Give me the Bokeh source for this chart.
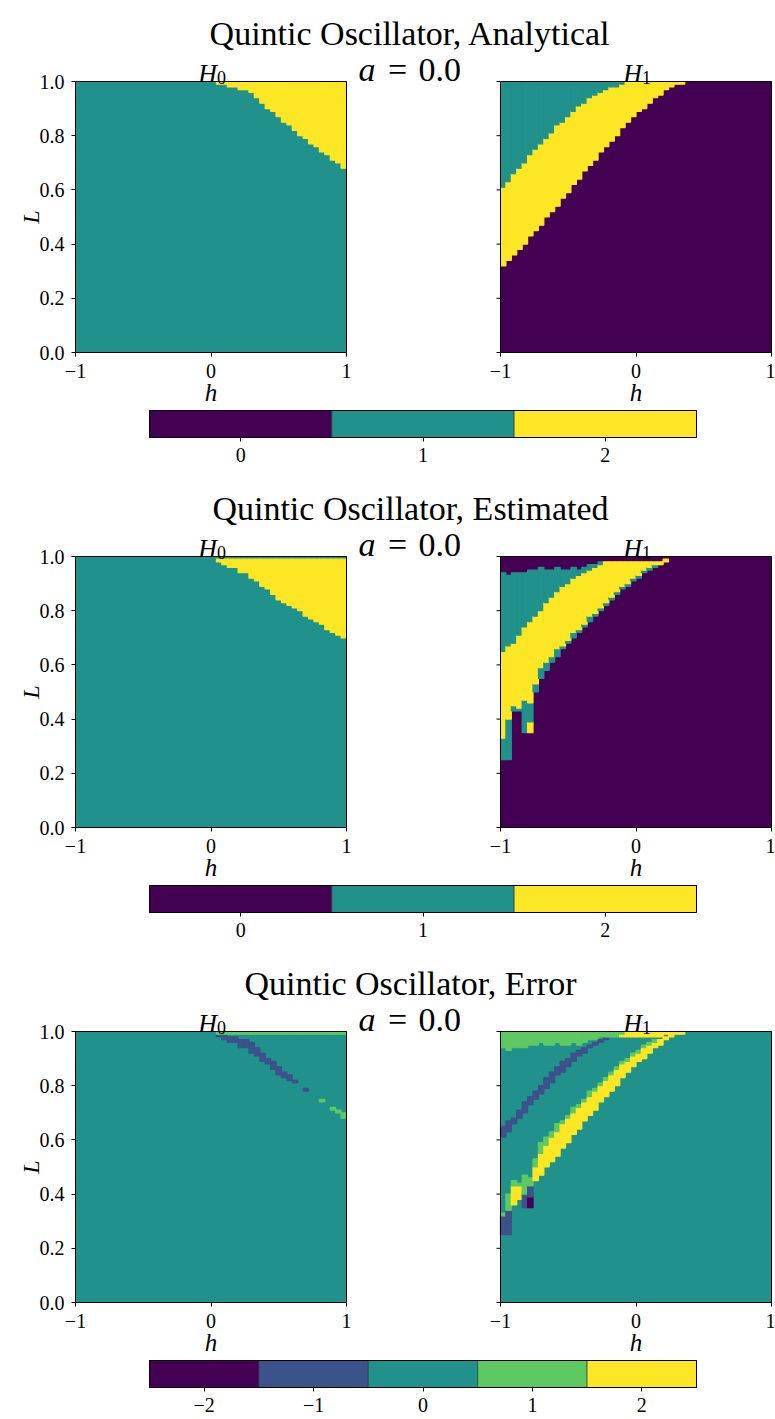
import numpy as np
from bokeh.plotting import figure
from bokeh.layouts import column
from bokeh.models import (Range1d, FixedTicker, PrintfTickFormatter, LinearAxis,
                          Label, LinearColorMapper, ColumnDataSource)
from bokeh.transform import transform
from bokeh.embed import file_html
from bokeh.resources import INLINE

# ---------------------------------------------------------------- data grid
# 50 columns over h in [-1, 1], 100 rows over L in [0, 1]
H_MIN, H_MAX, N_H = -1.0, 1.0, 50
L_MIN, L_MAX, N_L = 0.0, 1.0, 100
h_edges = np.linspace(H_MIN, H_MAX, N_H + 1)

betti_levels = [0, 1, 2]
error_levels = [-2, -1, 0, 1, 2]
betti_palette = ["#440154", "#21918c", "#fde725"]
error_palette = ["#440154", "#3b528b", "#21918c", "#5ec962", "#fde725"]
x_ticks = [-1, 0, 1]
y_ticks = [0.0, 0.2, 0.4, 0.6, 0.8, 1.0]

section_titles = ["Quintic Oscillator, Analytical",
                  "Quintic Oscillator, Estimated",
                  "Quintic Oscillator, Error"]
a_value = 0.0

# analytical H0: value 2 from this L upward (1.0 = column stays at 1)
ana_h0_yellow_from = [1.00, 1.00, 1.00, 1.00, 1.00, 1.00, 1.00, 1.00, 1.00, 1.00,
                      1.00, 1.00, 1.00, 1.00, 1.00, 1.00, 1.00, 1.00, 1.00, 1.00,
                      1.00, 1.00, 1.00, 1.00, 1.00, 1.00, 0.99, 0.99, 0.98, 0.98,
                      0.97, 0.97, 0.96, 0.94, 0.92, 0.90, 0.89, 0.87, 0.85, 0.84,
                      0.82, 0.80, 0.79, 0.77, 0.76, 0.74, 0.73, 0.71, 0.70, 0.68]

# analytical H1: 0 below, 2 from yellow_from, 1 from teal_from
ana_h1_yellow_from = [0.32, 0.34, 0.36, 0.38, 0.40, 0.43, 0.45, 0.47, 0.50, 0.52,
                      0.54, 0.57, 0.59, 0.62, 0.64, 0.67, 0.69, 0.71, 0.74, 0.76,
                      0.78, 0.80, 0.83, 0.85, 0.87, 0.89, 0.90, 0.92, 0.94, 0.95,
                      0.97, 0.98, 0.99, 0.99, 1.00, 1.00, 1.00, 1.00, 1.00, 1.00,
                      1.00, 1.00, 1.00, 1.00, 1.00, 1.00, 1.00, 1.00, 1.00, 1.00]
ana_h1_teal_from = [0.61, 0.63, 0.66, 0.68, 0.70, 0.73, 0.75, 0.77, 0.79, 0.81,
                    0.84, 0.85, 0.87, 0.89, 0.91, 0.92, 0.94, 0.95, 0.96, 0.97,
                    0.98, 0.98, 0.99, 1.00, 1.00, 1.00, 1.00, 1.00, 1.00, 1.00,
                    1.00, 1.00, 1.00, 1.00, 1.00, 1.00, 1.00, 1.00, 1.00, 1.00,
                    1.00, 1.00, 1.00, 1.00, 1.00, 1.00, 1.00, 1.00, 1.00, 1.00]

# estimated H0: value 2 between yellow_from and yellow_to, 1 elsewhere
est_h0_yellow_from = [1.00, 1.00, 1.00, 1.00, 1.00, 1.00, 1.00, 1.00, 1.00, 1.00,
                      1.00, 1.00, 1.00, 1.00, 1.00, 1.00, 1.00, 1.00, 1.00, 1.00,
                      1.00, 1.00, 1.00, 1.00, 1.00, 1.00, 0.98, 0.97, 0.96, 0.96,
                      0.94, 0.94, 0.92, 0.91, 0.89, 0.88, 0.86, 0.84, 0.83, 0.82,
                      0.81, 0.80, 0.78, 0.77, 0.76, 0.75, 0.73, 0.72, 0.71, 0.70]
est_h0_yellow_to = [1.00, 1.00, 1.00, 1.00, 1.00, 1.00, 1.00, 1.00, 1.00, 1.00,
                    1.00, 1.00, 1.00, 1.00, 1.00, 1.00, 1.00, 1.00, 1.00, 1.00,
                    1.00, 1.00, 1.00, 1.00, 1.00, 1.00, 0.99, 0.99, 0.99, 0.99,
                    0.99, 0.99, 0.99, 0.99, 0.99, 0.99, 0.99, 0.99, 0.99, 0.99,
                    0.99, 0.99, 0.99, 0.99, 0.99, 0.99, 0.99, 0.99, 0.99, 0.99]

# estimated H1: per column, runs of (upper L, value) from the bottom
est_h1_runs = [
    [(0.25, 0), (0.33, 1), (0.65, 2), (0.94, 1), (1.00, 0)],
    [(0.25, 0), (0.40, 1), (0.67, 2), (0.93, 1), (1.00, 0)],
    [(0.43, 0), (0.45, 1), (0.68, 2), (0.94, 1), (1.00, 0)],
    [(0.43, 0), (0.44, 1), (0.71, 2), (0.94, 1), (1.00, 0)],
    [(0.35, 0), (0.47, 1), (0.74, 2), (0.94, 1), (1.00, 0)],
    [(0.35, 0), (0.39, 2), (0.46, 1), (0.76, 2), (0.95, 1), (1.00, 0)],
    [(0.50, 0), (0.53, 1), (0.78, 2), (0.95, 1), (1.00, 0)],
    [(0.55, 0), (0.59, 1), (0.80, 2), (0.96, 1), (1.00, 0)],
    [(0.58, 0), (0.61, 1), (0.83, 2), (0.95, 1), (1.00, 0)],
    [(0.61, 0), (0.63, 1), (0.85, 2), (0.95, 1), (1.00, 0)],
    [(0.63, 0), (0.66, 1), (0.87, 2), (0.96, 1), (1.00, 0)],
    [(0.66, 0), (0.67, 1), (0.89, 2), (0.95, 1), (1.00, 0)],
    [(0.68, 0), (0.69, 1), (0.90, 2), (0.95, 1), (1.00, 0)],
    [(0.70, 0), (0.72, 1), (0.92, 2), (0.96, 1), (1.00, 0)],
    [(0.72, 0), (0.73, 1), (0.93, 2), (0.95, 1), (1.00, 0)],
    [(0.74, 0), (0.75, 1), (0.94, 2), (0.96, 1), (1.00, 0)],
    [(0.76, 0), (0.78, 1), (0.95, 2), (0.97, 1), (1.00, 0)],
    [(0.78, 0), (0.79, 1), (0.96, 2), (0.97, 1), (1.00, 0)],
    [(0.80, 0), (0.81, 1), (0.97, 2), (0.98, 1), (1.00, 0)],
    [(0.82, 0), (0.83, 1), (0.98, 2), (1.00, 0)],
    [(0.84, 0), (0.85, 1), (0.98, 2), (1.00, 0)],
    [(0.86, 0), (0.87, 1), (0.98, 2), (1.00, 0)],
    [(0.88, 0), (0.89, 1), (0.98, 2), (1.00, 0)],
    [(0.89, 0), (0.90, 1), (0.98, 2), (1.00, 0)],
    [(0.91, 0), (0.92, 1), (0.98, 2), (1.00, 0)],
    [(0.92, 0), (0.93, 1), (0.98, 2), (1.00, 0)],
    [(0.94, 0), (0.95, 1), (0.98, 2), (1.00, 0)],
    [(0.95, 0), (0.96, 1), (0.98, 2), (1.00, 0)],
    [(0.96, 0), (0.97, 1), (0.98, 2), (1.00, 0)],
    [(0.97, 0), (0.98, 2), (1.00, 0)],
    [(0.98, 0), (0.99, 2), (1.00, 0)],
] + [[(1.00, 0)] for _ in range(19)]


def grid_from_runs(runs):
    g = np.zeros((N_L, N_H), dtype=int)
    for j, col in enumerate(runs):
        lo = 0
        for top, v in col:
            hi = int(round(top * N_L))
            g[lo:hi, j] = v
            lo = max(lo, hi)
    return g


ana_h0 = grid_from_runs([[(a, 1), (1.0, 2)] for a in ana_h0_yellow_from])
ana_h1 = grid_from_runs([[(a, 0), (b, 2), (1.0, 1)]
                         for a, b in zip(ana_h1_yellow_from, ana_h1_teal_from)])
est_h0 = grid_from_runs([[(a, 1), (b, 2), (1.0, 1)]
                         for a, b in zip(est_h0_yellow_from, est_h0_yellow_to)])
est_h1 = grid_from_runs(est_h1_runs)
err_h0 = ana_h0 - est_h0
err_h1 = ana_h1 - est_h1


def cell_runs(grid):
    """Merge vertical runs of equal value into rectangles (background value skipped)."""
    out = dict(left=[], right=[], bottom=[], top=[], v=[])
    vals, counts = np.unique(grid, return_counts=True)
    base = vals[np.argmax(counts)]
    for j in range(N_H):
        col = grid[:, j]
        start = 0
        for i in range(1, N_L + 1):
            if i == N_L or col[i] != col[start]:
                if col[start] != base:
                    out["left"].append(h_edges[j])
                    out["right"].append(h_edges[j + 1])
                    out["bottom"].append(L_MIN + start * (L_MAX - L_MIN) / N_L)
                    out["top"].append(L_MIN + i * (L_MAX - L_MIN) / N_L)
                    out["v"].append(int(col[start]))
                start = i
    return int(base), out


# ---------------------------------------------------------------- layout
FONT = "Liberation Serif"
W = 775
PANEL_PX = 271
LEFT_X, RIGHT_X, PANEL_TOP = 75, 500, 81
CBAR_X0, CBAR_X1, CBAR_TOP, CBAR_BOT = 149, 696, 410, 437
PX_H = (H_MAX - H_MIN) / PANEL_PX
PX_L = (L_MAX - L_MIN) / PANEL_PX
OFF = (RIGHT_X - LEFT_X) * PX_H


def ux(px):
    return H_MIN + (px - LEFT_X) * PX_H


def vy(py):
    return L_MAX + (PANEL_TOP - py) * PX_L


def label(p, px, py, text, size, style="normal", align="center", baseline="alphabetic", angle=0):
    p.add_layout(Label(x=ux(px), y=vy(py), text=text, text_font=FONT,
                       text_font_size=f"{size}px", text_font_style=style,
                       text_align=align, text_baseline=baseline, angle=angle,
                       text_color="black"))


def style_axis(ax, standoff):
    ax.axis_line_color = None
    ax.major_tick_in = 0
    ax.major_tick_out = 4
    ax.major_tick_line_color = "black"
    ax.major_tick_line_width = 1
    ax.minor_tick_line_color = None
    ax.major_label_standoff = standoff
    ax.major_label_text_font = FONT
    ax.major_label_text_font_size = "20px"
    ax.major_label_text_color = "black"


def minus(v):
    return "\u2212" + str(-v) if v < 0 else str(v)


def section(title, grids, mapper, levels, height):
    p = figure(width=W, height=height, title=None, toolbar_location=None, output_backend="svg",
               x_range=Range1d(ux(0), ux(W)), y_range=Range1d(vy(height), vy(0)),
               x_axis_location=None, y_axis_location=None,
               min_border=0, min_border_left=0, min_border_right=0,
               min_border_top=0, min_border_bottom=0)
    p.extra_x_ranges = {"right": Range1d(ux(0) - OFF, ux(W) - OFF)}
    cs = len(levels) / (CBAR_X1 - CBAR_X0)
    c0 = levels[0] - 0.5 - CBAR_X0 * cs
    p.extra_x_ranges["cbar"] = Range1d(c0, c0 + W * cs)
    p.outline_line_color = None
    p.grid.visible = False
    p.background_fill_color = "white"
    p.border_fill_color = "white"

    # heat-map panels
    for grid, rng in zip(grids, ["default", "right"]):
        base, runs = cell_runs(grid)
        p.quad(left=[H_MIN], right=[H_MAX], bottom=[L_MIN], top=[L_MAX],
               fill_color=mapper.palette[base - levels[0]], line_color=None, x_range_name=rng)
        p.quad(left="left", right="right", bottom="bottom", top="top",
               source=ColumnDataSource(runs),
               fill_color=transform("v", mapper), line_color=transform("v", mapper),
               line_width=1.2, x_range_name=rng)
        p.quad(left=[H_MIN], right=[H_MAX], bottom=[L_MIN], top=[L_MAX],
               fill_color=None, line_color="black", line_width=1, x_range_name=rng)

        xa = LinearAxis(x_range_name=rng, fixed_location=L_MIN,
                        ticker=FixedTicker(ticks=x_ticks),
                        major_label_overrides={t: minus(t) for t in x_ticks})
        style_axis(xa, 7)
        p.add_layout(xa, "below")

    # L axis with labels on the left panel
    ya = LinearAxis(fixed_location=H_MIN, ticker=FixedTicker(ticks=y_ticks),
                    formatter=PrintfTickFormatter(format="%.1f"))
    style_axis(ya, 7)
    p.add_layout(ya, "left")
    # unlabelled L ticks on the right panel
    p.ray(x=[H_MIN] * len(y_ticks), y=y_ticks, length=4, length_units="screen",
          angle=np.pi, line_color="black", line_width=1, x_range_name="right")

    # colour bar
    cb_bot, cb_top = vy(CBAR_BOT), vy(CBAR_TOP)
    cb_src = ColumnDataSource(dict(left=[l - 0.5 for l in levels],
                                   right=[l + 0.5 for l in levels], v=levels))
    p.quad(left="left", right="right", bottom=cb_bot, top=cb_top, source=cb_src,
           fill_color=transform("v", mapper), line_color="#2b2b2b", line_width=0.6,
           x_range_name="cbar")
    p.quad(left=[levels[0] - 0.5], right=[levels[-1] + 0.5], bottom=[cb_bot], top=[cb_top],
           fill_color=None, line_color="black", line_width=1, x_range_name="cbar")
    ca = LinearAxis(x_range_name="cbar", fixed_location=cb_bot,
                    ticker=FixedTicker(ticks=levels),
                    major_label_overrides={l: minus(l) for l in levels})
    style_axis(ca, 6)
    p.add_layout(ca, "below")

    # texts
    cl = LEFT_X + PANEL_PX / 2
    cr = RIGHT_X + PANEL_PX / 2
    label(p, 410, 33, title, 34)
    label(p, 358, 69, "a", 34, style="italic", align="left")
    label(p, 397, 69, "=", 34)
    label(p, 418, 69, f"{a_value:.1f}", 34, align="left")
    for c, sub in ((cl, "0"), (cr, "1")):
        label(p, c + 6, 73, "H", 26, style="italic", align="right")
        label(p, c + 6, 77, sub, 18, align="left")
        label(p, c, 392, "h", 25, style="italic", baseline="middle")
    label(p, 30, PANEL_TOP + PANEL_PX / 2, "L", 24, style="italic", baseline="middle",
          angle=np.pi / 2)
    return p


betti_mapper = LinearColorMapper(palette=betti_palette, low=betti_levels[0] - 0.5,
                                 high=betti_levels[-1] + 0.5)
error_mapper = LinearColorMapper(palette=error_palette, low=error_levels[0] - 0.5,
                                 high=error_levels[-1] + 0.5)

page = column(
    section(section_titles[0], [ana_h0, ana_h1], betti_mapper, betti_levels, 475),
    section(section_titles[1], [est_h0, est_h1], betti_mapper, betti_levels, 475),
    section(section_titles[2], [err_h0, err_h1], error_mapper, error_levels, 469),
    spacing=0,
)

open("out.html", "w", encoding="utf-8").write(file_html(page, INLINE))
